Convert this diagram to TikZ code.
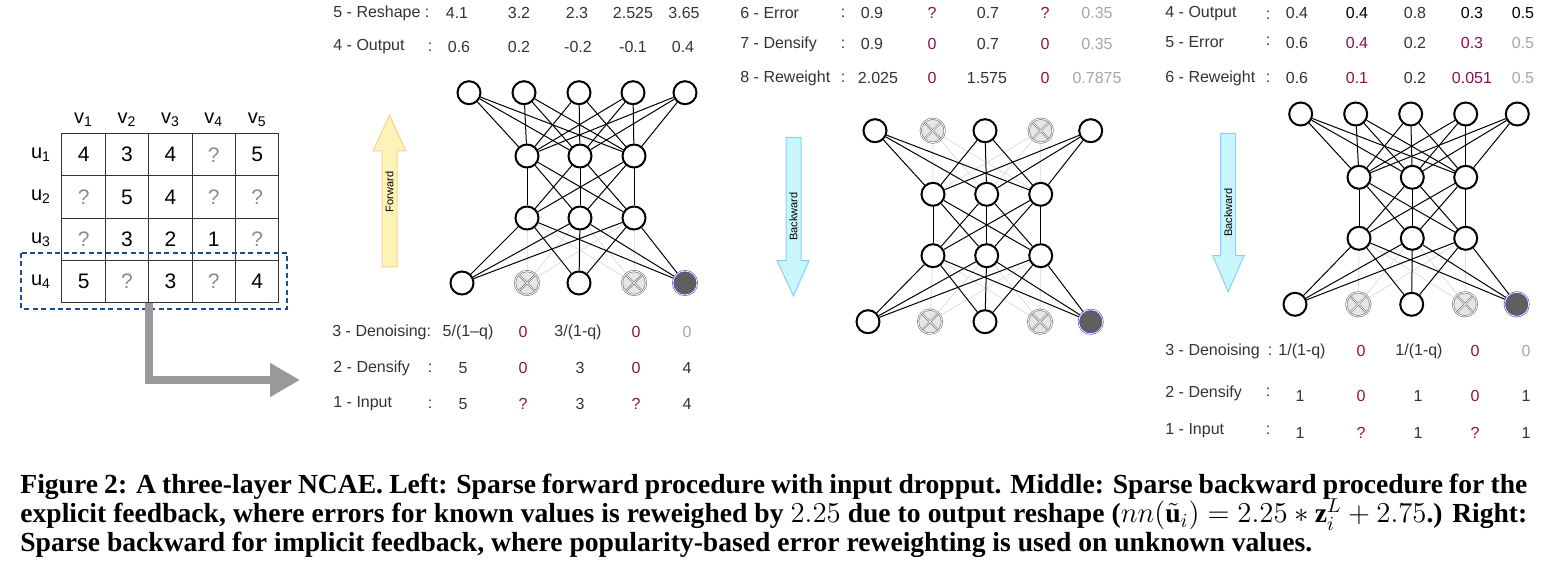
\documentclass[tikz,border=0pt]{standalone}
\usepackage{fontspec}
\setmainfont{Liberation Serif}
\setsansfont{Liberation Sans}
\usepackage{tikz}
\usetikzlibrary{positioning, arrows.meta, calc, matrix, backgrounds}
\usepackage{xcolor}
\definecolor{txtgray}{HTML}{333333}
\definecolor{qgray}{HTML}{8C8C8C}
\definecolor{valpurple}{HTML}{8B1150}
\definecolor{lightval}{HTML}{A6A6A6}
\definecolor{dropfill}{HTML}{E6E6E6}
\definecolor{maskfill}{HTML}{5F5F5F}
\definecolor{ringblue}{HTML}{4B4BC8}
\definecolor{fadeline}{HTML}{E3E3E3}
\definecolor{fwdfill}{HTML}{FDF3B8}
\definecolor{fwdline}{HTML}{F3D588}
\definecolor{bwdfill}{HTML}{C7F6FC}
\definecolor{bwdline}{HTML}{8CCFF2}
\definecolor{boxblue}{HTML}{1F4E87}
\definecolor{feedgray}{HTML}{999999}
\tikzset{
    neuron/.style={
        circle, draw=black, line width=1pt,
        fill=white, minimum size=11.5pt, inner sep=0pt
    },
    dropped/.style={
        circle, draw=black!55, line width=0.3pt,
        double=white, double distance=0.4pt,
        fill=dropfill, minimum size=12pt, inner sep=0pt,
        path picture={
            \draw[black!55, line width=0.3pt, double=white, double distance=0.35pt]
                (path picture bounding box.north west) -- (path picture bounding box.south east)
                (path picture bounding box.north east) -- (path picture bounding box.south west);
        }
    },
    masked/.style={
        circle, draw=ringblue, line width=0.3pt,
        double=white, double distance=0.35pt,
        fill=maskfill, minimum size=12pt, inner sep=0pt
    },
    link/.style={black, line width=0.5pt},
    fadedlink/.style={fadeline, line width=0.5pt},
    lbl/.style={
        anchor=west, inner sep=0pt, text=txtgray,
        font=\sffamily\fontsize{8}{9}\selectfont
    },
    colon/.style={inner sep=0pt, text=txtgray, font=\sffamily\fontsize{8}{9}\selectfont},
    val/.style={inner sep=0pt, text=txtgray, font=\sffamily\fontsize{8}{9}\selectfont},
    pval/.style={val, text=valpurple},
    gval/.style={val, text=lightval},
    bval/.style={val, text=black},
    cell/.style={
        rectangle, draw=txtgray, line width=0.5pt, anchor=center,
        minimum width=21.7pt, minimum height=21.15pt, inner sep=0pt,
        font=\sffamily\fontsize{10.5}{12}\selectfont
    },
    qcell/.style={text=qgray},
    colhead/.style={inner sep=0pt, font=\sffamily\fontsize{10}{12}\selectfont},
    rowbox/.style={draw=boxblue, line width=1pt, dash pattern=on 2.5pt off 1.7pt},
    feed/.style={
        draw=feedgray, line width=4pt,
        -{Triangle[length=15pt, width=16pt]}
    },
    fwdarrow/.style={draw=fwdline, fill=fwdfill, line width=0.5pt},
    bwdarrow/.style={draw=bwdline, fill=bwdfill, line width=0.5pt},
    arrowtext/.style={inner sep=0pt, rotate=90, font=\sffamily\fontsize{5.5}{6}\selectfont},
    caption/.style={
        anchor=base west, inner sep=0pt,
        font=\rmfamily\bfseries\fontsize{13.8}{15}\selectfont
    }
}

\begin{document}
\begin{tikzpicture}[x=0.5pt, y=-0.5pt]
\useasboundingbox (0,0) rectangle (1554,571);

% rating matrix
\matrix (R) [matrix of nodes, anchor=north west, inner sep=0pt,
    column sep=-0.5pt, row sep=-0.5pt, nodes={cell}] at (61,132.7) {
    4 & 3 & 4 & |[qcell]| ? & 5 \\
    |[qcell]| ? & 5 & 4 & |[qcell]| ? & |[qcell]| ? \\
    |[qcell]| ? & 3 & 2 & 1 & |[qcell]| ? \\
    5 & |[qcell]| ? & 3 & |[qcell]| ? & 4 \\
};
\foreach \j in {1,...,5}
    \node[colhead, above=3pt of R-1-\j] (v\j) {v\textsubscript{\j}};
\foreach \i in {1,...,4}
    \node[colhead, left=5pt of R-\i-1] (u\i) {u\textsubscript{\i}};
\draw[rowbox] ($(R-4-1.north west)+(-40,-7)$) rectangle ($(R-4-5.south east)+(8,5.5)$);

\coordinate (feedtip) at (300,380);
\draw[feed] (R-4-2.south east) |- (feedtip);

% forward network
\draw[fwdarrow] (382,267) -- (382,151) -- (373,151) -- (389.5,115) -- (406,151) -- (397,151) -- (397,267) -- cycle;
\node[arrowtext] (fwd) at (389.5,192) {Forward};

\foreach \x [count=\i] in {469,524,579,633,685}
    \node[neuron] (fo\i) at (\x,92.7) {};
\foreach \x [count=\i] in {527,580,634} {
    \node[neuron] (fa\i) at (\x,156) {};
    \node[neuron] (fb\i) at (\x,218) {};
}
\foreach \x/\s [count=\i] in {462/neuron,527/dropped,579/neuron,634/dropped,685/masked}
    \node[\s] (fi\i) at (\x,283) {};

\begin{scope}[on background layer]
    \foreach \j in {1,2,3}
        \foreach \i in {2,4} \draw[fadedlink] (fb\j) -- (fi\i);
    \foreach \j in {1,2,3} {
        \foreach \i in {1,3,5} \draw[link] (fb\j) -- (fi\i);
        \foreach \i in {1,...,5} \draw[link] (fo\i) -- (fa\j);
        \foreach \i in {1,2,3} \draw[link] (fa\i) -- (fb\j);
    }
\end{scope}

\node[lbl] (fw5) at (333,13) {5 - Reshape};
\node[colon] (fw5c) at (427,13) {:};
\foreach \x/\v/\s [count=\k] in {457/4.1/val, 519/3.2/val, 577/2.3/val, 633/2.525/val, 684/3.65/val}
    \node[\s] (fw5-\k) at (\x,13) {\v};
\node[lbl] (fw4) at (333,47) {4 - Output};
\node[colon] (fw4c) at (430,47) {:};
\foreach \x/\v/\s [count=\k] in {459/0.6/val, 519/0.2/val, 578/-0.2/val, 633/-0.1/val, 683/0.4/val}
    \node[\s] (fw4-\k) at (\x,47) {\v};

\node[lbl] (fw3) at (332,332) {3 - Denoising:};
\node[val] (fw3-1) at (468,332) {5/(1--q)};
\node[pval] (fw3-2) at (523,332) {0};
\node[val] (fw3-3) at (578,332) {3/(1-q)};
\node[pval] (fw3-4) at (636,332) {0};
\node[gval] (fw3-5) at (687,332) {0};
\node[lbl] (fw2) at (333,368) {2 - Densify};
\node[colon] (fw2c) at (430,368) {:};
\foreach \x/\v/\s [count=\k] in {463/5/val, 523/0/pval, 580/3/val, 636/0/pval, 687/4/val}
    \node[\s] (fw2-\k) at (\x,368) {\v};
\node[lbl] (fw1) at (333,404) {1 - Input};
\node[colon] (fw1c) at (430,404) {:};
\foreach \x/\v/\s [count=\k] in {463/5/val, 523/?/pval, 580/3/val, 636/?/pval, 687/4/val}
    \node[\s] (fw1-\k) at (\x,404) {\v};

% explicit backward network
\draw[bwdarrow] (786,137.3) -- (801,137.3) -- (801,260.7) -- (809,260.7) -- (793.5,296) -- (777,260.7) -- (786,260.7) -- cycle;
\node[arrowtext] (bwdx) at (793.5,216.7) {Backward};

\foreach \x/\s [count=\i] in {875/neuron,932.7/dropped,985/neuron,1040.7/dropped,1090.7/neuron}
    \node[\s] (mo\i) at (\x,130.7) {};
\foreach \x [count=\i] in {933,986.7,1040.7} {
    \node[neuron] (ma\i) at (\x,194.3) {};
    \node[neuron] (mb\i) at (\x,255.7) {};
}
\foreach \x/\s [count=\i] in {868/neuron,930/dropped,985/neuron,1040/dropped,1090.7/masked}
    \node[\s] (mi\i) at (\x,321.7) {};

\begin{scope}[on background layer]
    \foreach \j in {1,2,3} {
        \foreach \i in {2,4} \draw[fadedlink] (mo\i) -- (ma\j);
        \foreach \i in {2,4} \draw[fadedlink] (mb\j) -- (mi\i);
    }
    \foreach \j in {1,2,3} {
        \foreach \i in {1,3,5} \draw[link] (mo\i) -- (ma\j);
        \foreach \i in {1,2,3} \draw[link] (ma\i) -- (mb\j);
        \foreach \i in {1,3,5} \draw[link] (mb\j) -- (mi\i);
    }
\end{scope}

\node[lbl] (bx6) at (740,13) {6 - Error};
\node[colon] (bx6c) at (843,13) {:};
\foreach \x/\v/\s [count=\k] in {872/0.9/val, 932/?/pval, 988/0.7/val, 1045/?/pval, 1097/0.35/gval}
    \node[\s] (bx6-\k) at (\x,13) {\v};
\node[lbl] (bx7) at (740,44) {7 - Densify};
\node[colon] (bx7c) at (843,44) {:};
\foreach \x/\v/\s [count=\k] in {872/0.9/val, 932/0/pval, 988/0.7/val, 1045/0/pval, 1097/0.35/gval}
    \node[\s] (bx7-\k) at (\x,44) {\v};
\node[lbl] (bx8) at (740,78) {8 - Reweight};
\node[colon] (bx8c) at (843,78) {:};
\foreach \x/\v/\s [count=\k] in {878/2.025/val, 932/0/pval, 987/1.575/val, 1045/0/pval, 1097/0.7875/gval}
    \node[\s] (bx8-\k) at (\x,78) {\v};

% implicit backward network
\draw[bwdarrow] (1220.7,133.3) -- (1235.7,133.3) -- (1235.7,255.7) -- (1244,255.7) -- (1228.2,291.7) -- (1212.7,255.7) -- (1220.7,255.7) -- cycle;
\node[arrowtext] (bwdi) at (1228.2,212.7) {Backward};

\foreach \x [count=\i] in {1300.7,1355.7,1410.7,1465.7,1517.3}
    \node[neuron] (ro\i) at (\x,114) {};
\foreach \x [count=\i] in {1359,1412.3,1465.7} {
    \node[neuron] (ra\i) at (\x,177.3) {};
    \node[neuron] (rb\i) at (\x,238.3) {};
}
\foreach \x/\s [count=\i] in {1295/neuron,1358.3/dropped,1411.7/neuron,1465/dropped,1516.7/masked}
    \node[\s] (ri\i) at (\x,304.3) {};

\begin{scope}[on background layer]
    \foreach \j in {1,2,3}
        \foreach \i in {2,4} \draw[fadedlink] (rb\j) -- (ri\i);
    \foreach \j in {1,2,3} {
        \foreach \i in {1,...,5} \draw[link] (ro\i) -- (ra\j);
        \foreach \i in {1,2,3} \draw[link] (ra\i) -- (rb\j);
        \foreach \i in {1,3,5} \draw[link] (rb\j) -- (ri\i);
    }
\end{scope}

\node[lbl] (bi4) at (1165,14) {4 - Output};
\node[colon] (bi4c) at (1268,15) {:};
\foreach \x/\v/\s [count=\k] in {1297/0.4/val, 1357/0.4/bval, 1415/0.8/val, 1472/0.3/bval, 1523/0.5/bval}
    \node[\s] (bi4-\k) at (\x,13) {\v};
\node[lbl] (bi5) at (1165,42) {5 - Error};
\node[colon] (bi5c) at (1268,41) {:};
\foreach \x/\v/\s [count=\k] in {1297/0.6/val, 1357/0.4/pval, 1415/0.2/val, 1472/0.3/pval, 1523/0.5/gval}
    \node[\s] (bi5-\k) at (\x,43) {\v};
\node[lbl] (bi6) at (1165,78) {6 - Reweight};
\node[colon] (bi6c) at (1268,78) {:};
\foreach \x/\v/\s [count=\k] in {1297/0.6/val, 1357/0.1/pval, 1415/0.2/val, 1472/0.051/pval, 1523/0.5/gval}
    \node[\s] (bi6-\k) at (\x,78) {\v};

\node[lbl] (bi3) at (1165,351) {3 - Denoising};
\node[colon] (bi3c) at (1270,351) {:};
\node[val] (bi3-1) at (1302,351) {1/(1-q)};
\node[pval] (bi3-2) at (1361,351) {0};
\node[val] (bi3-3) at (1419,351) {1/(1-q)};
\node[pval] (bi3-4) at (1475,351) {0};
\node[gval] (bi3-5) at (1526,351) {0};
\node[lbl] (bi2) at (1165,393) {2 - Densify};
\node[colon] (bi2c) at (1268,392) {:};
\foreach \x/\v/\s [count=\k] in {1300/1/val, 1361/0/pval, 1418/1/val, 1475/0/pval, 1526/1/val}
    \node[\s] (bi2-\k) at (\x,396) {\v};
\node[lbl] (bi1) at (1165,431) {1 - Input};
\node[colon] (bi1c) at (1268,430) {:};
\foreach \x/\v/\s [count=\k] in {1300/1/val, 1361/?/pval, 1418/1/val, 1475/?/pval, 1526/1/val}
    \node[\s] (bi1-\k) at (\x,433) {\v};

% caption
\node[caption] (cap1) at (20,494) {\makebox[753.5pt][s]{Figure 2: A three-layer NCAE. Left: Sparse forward procedure with input dropput. Middle: Sparse backward procedure for the}};
\node[caption] (cap2) at (20,523) {\makebox[753.5pt][s]{explicit feedback, where errors for known values is reweighed by $2.25$ due to output reshape (\smash{$nn(\tilde{\mathbf{u}}_i) = 2.25 \ast \mathbf{z}_i^L + 2.75$}.) Right:}};
\node[caption] (cap3) at (20,552) {Sparse backward for implicit feedback, where popularity-based error reweighting is used on unknown values.};

\end{tikzpicture}
\end{document}
